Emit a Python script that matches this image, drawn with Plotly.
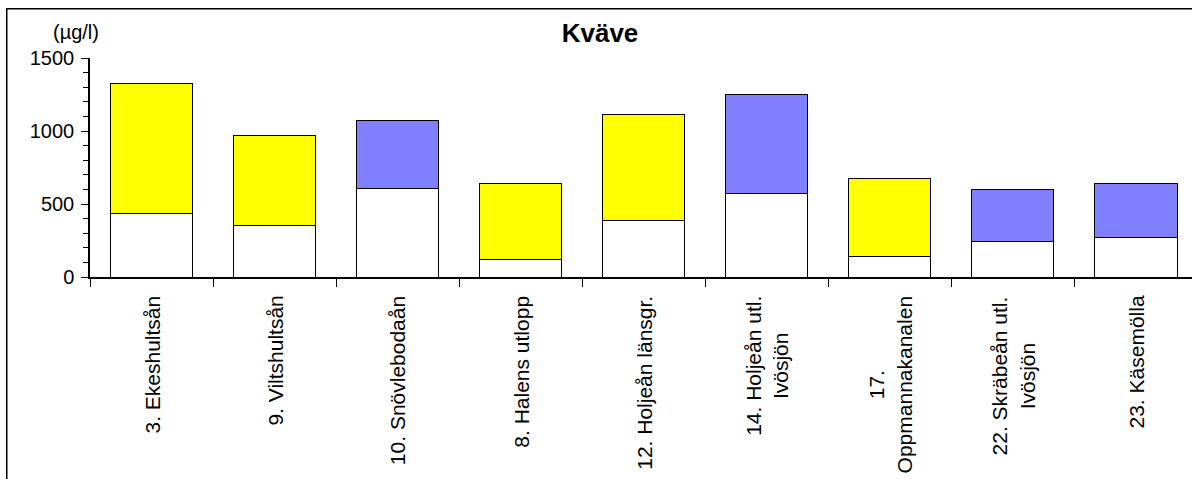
import plotly.graph_objects as go

# Data
stations = ["3. Ekeshultsån", "9. Viltshultsån", "10. Snövlebodaån", "8. Halens utlopp",
            "12. Holjeån länsgr.", "14. Holjeån utl. Ivösjön", "17. Oppmannakanalen",
            "22. Skräbeån utl. Ivösjön", "23. Käsemölla"]
station_labels = ["3. Ekeshultsån", "9. Viltshultsån", "10. Snövlebodaån", "8. Halens utlopp",
                  "12. Holjeån länsgr.", "14. Holjeån utl.<br>Ivösjön", "17.<br>Oppmannakanalen",
                  "22. Skräbeån utl.<br>Ivösjön", "23. Käsemölla"]
base_values = [432, 354, 607, 123, 390, 573, 139, 244, 272]
total_values = [1327, 966, 1075, 642, 1114, 1247, 676, 596, 642]
top_colors = ["#FFFF00", "#FFFF00", "#8080FF", "#FFFF00", "#FFFF00", "#8080FF", "#FFFF00", "#8080FF", "#8080FF"]

top_values = [t - b for t, b in zip(total_values, base_values)]

FONT = "Liberation Sans, Arial, sans-serif"

# plot area in pixels: y axis at x=90, value 0 at y=277, 1500 at y=58
L, T, B = 90, 58, 277
W, H = 1192, 479
PW, PH = W - L, B - T

fig = go.Figure()

fig.add_trace(go.Bar(
    x=stations, y=base_values, width=0.667,
    marker=dict(color="white", line=dict(color="black", width=1)),
    hoverinfo="skip"
))
fig.add_trace(go.Bar(
    x=stations, y=top_values, width=0.667,
    marker=dict(color=top_colors, line=dict(color="black", width=1)),
    hoverinfo="skip"
))

# category labels, rotated, lines centred like the original
for name, lab in zip(stations, station_labels):
    fig.add_annotation(
        x=name, y=0, xref="x", yref="y",
        text=lab, textangle=-90, showarrow=False,
        xanchor="center", yanchor="top", yshift=-17, align="center",
        font=dict(family=FONT, size=21, color="black")
    )

# unit label above the y axis
fig.add_annotation(
    x=(76 - L) / PW, y=(B - 32) / PH, xref="paper", yref="paper",
    text="(µg/l)", showarrow=False, xanchor="center", yanchor="middle",
    font=dict(family=FONT, size=20, color="black")
)

# chart border: an empty outlined box starting at (6, 8); its right and bottom
# edges fall outside the page, as in the cropped original
fig.add_annotation(
    x=(6 - L) / PW, y=(B - 8) / PH, xref="paper", yref="paper",
    xanchor="left", yanchor="top", text="", showarrow=False,
    width=1400, height=700, bordercolor="black", borderwidth=1.5, borderpad=0
)

fig.update_layout(
    width=W, height=H,
    barmode="stack", showlegend=False,
    paper_bgcolor="white", plot_bgcolor="white",
    margin=dict(l=L, r=0, t=T, b=H - B),
    title=dict(text="<b>Kväve</b>", x=600 / W, xanchor="center", y=1 - 33 / H, yanchor="middle",
               font=dict(family=FONT, size=26, color="black")),
    font=dict(family=FONT, size=20, color="black"),
    xaxis=dict(
        type="category", range=[-0.5, 8.455],
        showticklabels=False, tickson="boundaries",
        ticks="outside", ticklen=8, tickcolor="black", tickwidth=1,
        showline=True, linecolor="black", linewidth=1.5,
        showgrid=False, zeroline=False, fixedrange=True
    ),
    yaxis=dict(
        range=[0, 1500], tickvals=[0, 500, 1000, 1500],
        ticks="outside", ticklen=7, tickcolor="black", tickwidth=1,
        minor=dict(dtick=100, ticks="outside", ticklen=5, tickcolor="black", tickwidth=1),
        showline=True, linecolor="black", linewidth=1.5,
        showgrid=False, zeroline=False, fixedrange=True,
        ticklabelstandoff=3,
        tickfont=dict(family=FONT, size=20, color="black")
    )
)

# drop the browser's default body margin and scrollbars so the figure sits at the page origin
fig.write_html("out.html", config={"displayModeBar": False},
               post_script="document.body.style.margin='0';"
                           "document.body.style.overflow='hidden';"
                           "document.documentElement.style.overflow='hidden';")
